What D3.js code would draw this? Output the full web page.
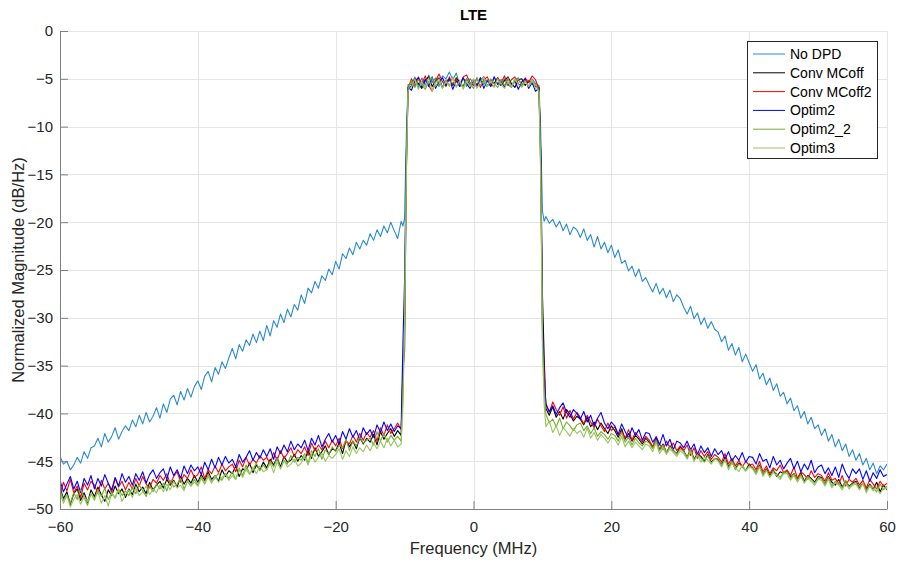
<!DOCTYPE html>
<html>
<head>
<meta charset="utf-8">
<script src="https://cdn.jsdelivr.net/npm/d3@7"></script>
<style>
  html, body { margin: 0; padding: 0; background: #fff; }
  svg { display: block; font-family: "Liberation Sans", Arial, Helvetica, sans-serif; }
</style>
</head>
<body>
<svg id="chart" width="897" height="561"></svg>
<script>
// ---------------- DATA ----------------
const chartTitle = "LTE";
const xLabel = "Frequency (MHz)";
const yLabel = "Normalized Magnitude (dB/Hz)";
const xTicks = [-60, -40, -20, 0, 20, 40, 60];
const yTicks = [0, -5, -10, -15, -20, -25, -30, -35, -40, -45, -50];
const seriesNames = ["No DPD", "Conv MCoff", "Conv MCoff2", "Optim2", "Optim2_2", "Optim3"];
const seriesColors = ["#2a8ad0", "#000000", "#ff0000", "#0000ff", "#77ac30", "#96c65a"];

// frequency grid (MHz)
const freqs = [
  -60,-59.5,-59,-58.5,-58,-57.5,-57,-56.5,-56,-55.5,
  -55,-54.5,-54,-53.5,-53,-52.5,-52,-51.5,-51,-50.5,
  -50,-49.5,-49,-48.5,-48,-47.5,-47,-46.5,-46,-45.5,
  -45,-44.5,-44,-43.5,-43,-42.5,-42,-41.5,-41,-40.5,
  -40,-39.5,-39,-38.5,-38,-37.5,-37,-36.5,-36,-35.5,
  -35,-34.5,-34,-33.5,-33,-32.5,-32,-31.5,-31,-30.5,
  -30,-29.5,-29,-28.5,-28,-27.5,-27,-26.5,-26,-25.5,
  -25,-24.5,-24,-23.5,-23,-22.5,-22,-21.5,-21,-20.5,
  -20,-19.5,-19,-18.5,-18,-17.5,-17,-16.5,-16,-15.5,
  -15,-14.5,-14,-13.5,-13,-12.5,-12,-11.5,-11,-10.5,
  -10.25,-10,-9.75,-9.5,
  -9,-8.5,-8,-7.5,-7,-6.5,-6,-5.5,-5,-4.5,-4,-3.5,-3,-2.5,-2,-1.5,-1,-0.5,
  0,0.5,1,1.5,2,2.5,3,3.5,4,4.5,5,5.5,6,6.5,7,7.5,8,8.5,9,
  9.5,9.75,10,10.25,
  10.5,11,11.5,12,12.5,13,13.5,14,14.5,15,
  15.5,16,16.5,17,17.5,18,18.5,19,19.5,20,
  20.5,21,21.5,22,22.5,23,23.5,24,24.5,25,
  25.5,26,26.5,27,27.5,28,28.5,29,29.5,30,
  30.5,31,31.5,32,32.5,33,33.5,34,34.5,35,
  35.5,36,36.5,37,37.5,38,38.5,39,39.5,40,
  40.5,41,41.5,42,42.5,43,43.5,44,44.5,45,
  45.5,46,46.5,47,47.5,48,48.5,49,49.5,50,
  50.5,51,51.5,52,52.5,53,53.5,54,54.5,55,
  55.5,56,56.5,57,57.5,58,58.5,59,59.5,60
];

const noDPD = [
  -44.5,-45.3,-45.0,-45.9,-45.4,-44.6,-45.2,-44.0,-44.7,-43.6,
  -43.4,-42.6,-43.5,-42.1,-43.0,-42.4,-41.5,-42.7,-41.9,-41.3,
  -41.8,-40.7,-41.4,-40.2,-41.1,-39.9,-40.9,-40.3,-39.4,-40.5,
  -39.0,-39.9,-38.5,-38.1,-39.1,-37.7,-38.6,-37.4,-38.3,-37.2,
  -36.6,-37.5,-36.1,-35.6,-36.7,-35.2,-35.9,-34.6,-35.3,-34.2,
  -33.2,-34.3,-32.8,-33.5,-32.3,-32.9,-31.7,-32.6,-31.4,-32.4,
  -30.8,-31.9,-30.3,-31.0,-29.6,-30.5,-29.1,-29.9,-28.6,-29.2,
  -27.6,-28.5,-26.9,-27.4,-26.2,-26.9,-25.6,-26.1,-24.9,-25.5,
  -24.1,-24.9,-23.3,-23.8,-22.7,-23.4,-22.1,-22.8,-21.9,-22.4,
  -21.2,-21.9,-20.8,-21.5,-20.4,-21.1,-20.0,-20.9,-21.7,-19.9,
  -20.4,-19.6,-11.0,-5.6,
  -5.6,-4.8,-5.9,-4.9,-5.7,-4.6,-5.4,-4.9,-5.8,-4.7,-5.0,-4.3,-5.1,-4.4,-5.6,-4.9,-5.8,-5.0,
  -5.4,-5.9,-4.9,-5.6,-5.1,-5.8,-4.8,-5.5,-5.7,-5.0,-5.6,-5.9,-5.1,-4.9,-5.7,-5.2,-5.8,-5.0,-5.5,
  -5.7,-10.5,-18.8,-19.9,
  -19.4,-20.1,-19.7,-20.5,-19.9,-20.9,-20.2,-21.3,-20.5,-20.8,
  -21.6,-20.7,-21.9,-21.3,-22.6,-21.5,-22.8,-22.1,-23.2,-22.4,
  -23.7,-22.9,-24.3,-24.0,-25.1,-24.6,-25.7,-24.9,-26.2,-25.8,
  -26.6,-27.3,-26.4,-27.5,-26.9,-27.9,-27.1,-28.3,-27.6,-28.0,
  -28.9,-29.6,-28.8,-30.1,-29.5,-30.7,-30.0,-31.1,-30.4,-31.2,
  -31.5,-32.5,-31.9,-33.4,-32.7,-33.9,-33.1,-34.6,-33.8,-34.7,
  -35.6,-34.9,-36.4,-35.8,-37.0,-36.3,-37.6,-36.9,-38.2,-37.8,
  -39.0,-38.4,-39.7,-39.2,-40.5,-39.8,-41.1,-40.4,-41.6,-41.2,
  -42.3,-41.6,-42.9,-42.2,-43.5,-42.7,-43.9,-43.2,-44.5,-43.8,
  -44.9,-44.2,-45.4,-44.7,-45.9,-45.2,-46.3,-45.5,-45.9,-45.3
];

const convMCoff = [
  -47.8,-48.9,-48.2,-49.5,-48.4,-47.9,-49.1,-48.3,-49.3,-48.0,
  -48.7,-47.7,-48.5,-49.2,-48.0,-48.6,-47.6,-48.4,-47.9,-48.8,
  -47.9,-48.5,-47.4,-48.2,-47.7,-48.4,-47.2,-48.0,-47.5,-47.1,
  -47.8,-46.9,-47.5,-47.0,-47.7,-46.6,-47.4,-46.8,-47.3,-46.5,
  -47.2,-46.4,-47.0,-46.1,-46.9,-46.5,-47.1,-45.9,-46.6,-46.0,
  -46.3,-45.5,-46.6,-45.8,-46.0,-45.2,-46.2,-45.4,-45.9,-45.1,
  -45.7,-44.8,-45.4,-44.6,-45.6,-44.5,-45.1,-44.9,-44.3,-45.0,
  -44.4,-44.9,-43.9,-44.7,-43.6,-44.5,-44.0,-43.4,-44.3,-43.7,
  -43.9,-43.1,-44.2,-42.8,-43.5,-42.9,-43.7,-42.5,-43.2,-42.6,
  -43.0,-42.2,-43.3,-41.9,-42.7,-42.1,-41.6,-42.4,-41.8,-42.3,
  -35.5,-33.5,-15.0,-6.2,
  -5.7,-5.0,-5.5,-6.0,-5.1,-4.8,-5.8,-5.2,-4.9,-5.9,-5.3,-5.0,-5.7,-4.9,-5.4,-5.8,-5.0,-5.6,
  -5.1,-5.7,-5.2,-4.8,-5.8,-5.1,-5.5,-4.9,-5.7,-5.2,-4.8,-5.5,-5.9,-5.1,-5.0,-5.7,-5.2,-5.5,-5.8,
  -5.9,-12.5,-27.5,-34.0,
  -39.5,-40.2,-39.3,-40.4,-39.8,-40.6,-39.6,-40.1,-40.8,-40.3,
  -40.6,-41.2,-40.4,-41.4,-40.9,-41.7,-41.0,-41.6,-42.1,-41.3,
  -41.8,-42.5,-41.6,-42.7,-42.1,-42.9,-42.3,-42.7,-43.2,-42.6,
  -43.0,-43.6,-42.7,-43.8,-43.2,-44.1,-43.4,-43.9,-44.2,-43.5,
  -43.9,-44.6,-43.7,-44.8,-44.2,-44.5,-45.0,-44.3,-45.1,-44.7,
  -44.8,-45.4,-44.6,-45.6,-45.0,-45.8,-45.2,-45.5,-46.0,-45.3,
  -45.7,-46.2,-45.4,-46.4,-45.8,-46.5,-45.9,-46.6,-46.1,-46.3,
  -46.0,-46.7,-46.3,-46.9,-46.2,-47.1,-46.5,-46.8,-47.2,-46.6,
  -46.7,-47.4,-46.6,-47.2,-47.5,-46.9,-47.7,-47.1,-47.6,-47.3,
  -47.1,-47.8,-47.3,-48.0,-47.4,-47.9,-47.2,-48.2,-47.5,-48.0
];

const convMCoff2 = [
  -48.5,-47.2,-48.1,-46.9,-48.3,-47.6,-48.8,-47.3,-48.0,-47.1,
  -47.5,-48.4,-47.0,-47.9,-47.3,-48.3,-46.8,-47.7,-47.1,-48.0,
  -47.2,-47.9,-46.8,-47.6,-46.6,-47.4,-47.8,-46.9,-47.3,-46.5,
  -47.0,-46.3,-47.4,-46.6,-46.1,-47.2,-46.4,-46.8,-45.9,-46.7,
  -46.4,-45.6,-46.8,-45.9,-46.3,-45.5,-46.2,-45.3,-46.0,-45.6,
  -45.3,-46.1,-44.9,-45.6,-44.6,-45.4,-44.8,-45.2,-44.4,-44.9,
  -44.6,-45.3,-44.1,-44.9,-43.9,-44.7,-44.2,-43.6,-44.5,-43.8,
  -44.2,-43.5,-44.4,-43.1,-43.9,-43.3,-43.8,-42.9,-43.6,-42.8,
  -43.4,-42.6,-43.7,-42.9,-43.2,-42.3,-43.0,-42.1,-42.8,-42.0,
  -42.5,-41.8,-42.9,-41.5,-42.3,-41.2,-42.1,-41.6,-41.0,-41.7,
  -37.5,-29.5,-14.0,-6.0,
  -5.0,-5.8,-4.8,-5.5,-4.7,-5.7,-6.3,-5.2,-4.5,-5.3,-5.8,-4.8,-5.6,-5.0,-5.8,-4.8,-4.6,-5.4,
  -5.7,-4.9,-5.9,-5.1,-4.8,-5.6,-5.8,-4.9,-5.4,-4.7,-5.7,-5.1,-4.8,-5.5,-5.8,-4.9,-5.4,-4.7,-5.1,
  -6.1,-14.0,-31.0,-35.5,
  -39.1,-39.9,-38.8,-39.6,-40.2,-39.3,-40.5,-39.7,-40.6,-39.9,
  -40.4,-41.1,-40.2,-40.9,-41.5,-40.6,-41.3,-41.9,-41.0,-41.8,
  -41.4,-42.3,-41.9,-42.6,-41.7,-42.8,-42.0,-42.5,-43.0,-42.4,
  -42.8,-43.5,-42.4,-43.2,-43.8,-42.9,-43.6,-43.1,-43.9,-43.4,
  -43.9,-43.3,-44.4,-43.6,-44.7,-43.9,-44.5,-44.0,-44.8,-44.3,
  -44.6,-45.1,-44.2,-45.3,-44.7,-45.5,-44.9,-45.6,-45.0,-45.4,
  -45.3,-45.9,-45.0,-46.1,-45.5,-46.3,-45.7,-46.0,-45.4,-46.2,
  -45.9,-46.5,-45.6,-46.8,-46.1,-46.4,-46.9,-46.0,-46.7,-46.3,
  -46.5,-47.1,-46.2,-47.0,-46.8,-47.4,-46.5,-47.6,-46.9,-47.2,
  -46.8,-47.5,-47.0,-47.8,-46.9,-47.4,-47.9,-47.1,-47.6,-47.3
];

const optim2 = [
  -47.0,-48.2,-47.4,-46.6,-47.9,-47.1,-48.3,-46.8,-47.5,-46.5,
  -47.9,-46.8,-47.6,-46.4,-47.3,-48.0,-46.7,-47.6,-46.3,-47.2,
  -46.6,-47.5,-46.3,-47.0,-46.1,-47.3,-46.4,-45.9,-46.8,-46.2,
  -45.8,-46.9,-45.6,-46.5,-45.9,-46.8,-45.5,-46.3,-45.4,-46.0,
  -45.6,-46.4,-45.1,-45.9,-44.8,-45.7,-44.6,-45.4,-44.5,-45.2,
  -44.8,-45.6,-44.3,-45.1,-44.6,-43.9,-44.9,-44.1,-44.7,-43.8,
  -44.5,-43.7,-44.8,-43.5,-44.2,-43.3,-44.0,-42.9,-43.8,-43.2,
  -43.6,-42.8,-43.9,-42.6,-43.3,-42.3,-43.5,-42.7,-42.1,-43.0,
  -42.3,-43.2,-41.9,-42.7,-41.6,-42.5,-41.8,-42.8,-41.5,-42.2,
  -41.7,-42.5,-41.2,-42.0,-40.9,-41.8,-41.1,-41.9,-41.3,-41.6,
  -33.0,-26.0,-13.0,-5.9,
  -6.2,-5.2,-4.9,-5.9,-5.1,-5.8,-4.8,-6.0,-5.3,-4.9,-5.7,-5.0,-6.1,-5.2,-5.8,-4.9,-5.5,-6.0,
  -5.1,-5.7,-4.9,-6.0,-5.2,-5.8,-4.8,-5.6,-5.1,-5.9,-4.9,-5.7,-5.2,-6.1,-5.3,-5.0,-6.0,-5.4,-6.3,
  -6.0,-13.0,-30.0,-36.5,
  -39.0,-39.8,-39.2,-40.1,-39.4,-38.9,-39.9,-40.4,-39.6,-40.0,
  -40.6,-39.8,-40.9,-40.2,-41.3,-40.5,-39.9,-41.0,-41.6,-40.9,
  -41.3,-42.2,-41.1,-41.9,-42.6,-41.5,-42.3,-41.7,-42.8,-42.0,
  -42.1,-43.0,-42.5,-43.3,-42.2,-43.4,-42.7,-43.8,-42.9,-43.1,
  -43.6,-42.9,-43.8,-43.2,-44.3,-43.4,-44.1,-43.6,-44.5,-43.7,
  -44.3,-43.9,-44.8,-44.0,-45.0,-44.4,-44.9,-44.1,-45.1,-44.5,
  -44.6,-45.3,-44.2,-45.0,-44.8,-45.7,-44.5,-45.4,-44.9,-45.8,
  -45.2,-44.7,-45.8,-45.0,-46.1,-45.3,-45.9,-44.9,-46.2,-45.6,
  -45.4,-46.3,-45.7,-46.5,-45.6,-46.7,-45.3,-46.2,-46.8,-45.8,
  -46.3,-45.8,-46.9,-46.0,-47.1,-46.2,-46.8,-45.9,-46.6,-46.4
];

const optim2_2 = [
  -48.0,-49.1,-48.5,-49.4,-48.3,-49.0,-47.9,-48.8,-49.6,-48.4,
  -48.9,-48.0,-48.7,-47.8,-49.0,-48.3,-48.8,-47.9,-48.6,-48.1,
  -48.6,-47.7,-48.4,-47.5,-48.1,-48.7,-47.6,-48.2,-47.4,-47.9,
  -47.3,-48.1,-47.0,-47.7,-47.4,-46.8,-47.9,-47.1,-47.6,-46.9,
  -47.5,-46.6,-47.3,-46.4,-47.1,-46.8,-46.2,-47.0,-46.3,-46.8,
  -46.1,-46.9,-45.7,-46.5,-45.4,-46.3,-45.9,-45.2,-46.0,-45.4,
  -45.9,-45.0,-45.6,-44.7,-45.8,-44.9,-45.3,-44.4,-45.1,-44.6,
  -44.9,-44.2,-45.2,-43.9,-44.5,-43.7,-44.8,-43.8,-44.3,-43.5,
  -44.0,-43.3,-43.6,-42.7,-43.9,-42.9,-43.4,-42.5,-43.1,-42.8,
  -42.6,-43.3,-41.9,-42.9,-42.1,-43.0,-42.3,-42.8,-42.4,-42.9,
  -38.5,-30.5,-14.5,-6.1,
  -5.2,-5.9,-5.1,-5.6,-6.1,-5.3,-4.9,-5.8,-5.2,-6.0,-5.1,-5.7,-4.8,-5.8,-5.2,-5.9,-5.0,-5.5,
  -6.0,-4.9,-5.7,-5.2,-5.8,-5.0,-5.5,-5.9,-5.1,-5.7,-4.9,-5.8,-5.3,-5.0,-5.7,-5.2,-5.8,-5.3,-5.6,
  -6.2,-14.5,-32.0,-37.5,
  -40.1,-41.0,-40.6,-41.4,-40.5,-41.6,-40.9,-41.3,-41.8,-41.2,
  -41.0,-41.8,-41.3,-42.1,-41.5,-42.4,-41.9,-42.2,-42.7,-42.1,
  -42.3,-42.9,-42.0,-43.0,-42.5,-43.3,-42.6,-43.1,-43.4,-42.9,
  -43.1,-43.7,-42.8,-43.9,-43.3,-44.1,-43.5,-43.8,-44.3,-43.7,
  -44.0,-44.6,-43.8,-44.9,-44.3,-44.7,-45.1,-44.4,-45.2,-44.8,
  -44.7,-45.4,-44.9,-45.7,-45.0,-45.9,-45.3,-45.6,-46.0,-45.5,
  -45.6,-46.2,-45.5,-46.4,-45.9,-46.6,-46.0,-46.3,-46.7,-46.2,
  -46.1,-46.8,-46.3,-47.0,-46.4,-47.2,-46.6,-46.9,-47.3,-46.8,
  -46.8,-47.4,-46.7,-47.6,-47.1,-47.3,-47.8,-47.0,-47.7,-47.4,
  -47.2,-47.9,-47.3,-48.1,-47.5,-47.8,-48.2,-47.4,-48.0,-47.6
];

const optim3 = [
  -48.3,-49.4,-48.6,-49.8,-49.0,-48.5,-49.5,-48.7,-49.2,-48.4,
  -49.1,-48.2,-49.4,-48.6,-49.7,-48.3,-48.9,-48.0,-49.2,-48.5,
  -48.0,-48.8,-47.8,-48.6,-48.2,-47.6,-48.5,-47.9,-48.3,-47.5,
  -48.2,-47.4,-48.0,-47.1,-47.8,-47.5,-48.1,-47.0,-47.6,-47.2,
  -47.6,-46.8,-47.4,-46.6,-47.3,-46.5,-47.2,-46.7,-46.4,-47.0,
  -46.5,-46.9,-45.9,-46.7,-45.8,-46.4,-45.6,-46.3,-45.5,-46.1,
  -45.9,-45.2,-46.2,-45.1,-45.8,-44.9,-45.6,-45.3,-44.8,-45.5,
  -45.2,-44.5,-45.4,-44.3,-45.1,-44.6,-44.2,-45.0,-44.4,-44.7,
  -44.3,-43.7,-44.8,-43.9,-44.5,-43.5,-44.2,-43.6,-44.0,-43.3,
  -43.9,-43.1,-43.7,-42.9,-43.6,-42.6,-43.4,-42.8,-43.5,-43.2,
  -39.5,-31.0,-15.5,-6.3,
  -5.8,-5.0,-6.1,-5.3,-5.9,-4.9,-6.3,-5.4,-5.0,-6.0,-5.3,-5.8,-4.9,-5.9,-5.2,-6.1,-5.3,-5.8,
  -5.0,-6.0,-5.3,-4.8,-5.8,-5.2,-5.9,-5.0,-5.6,-6.0,-5.3,-5.8,-5.0,-5.6,-5.9,-5.3,-5.8,-5.1,-6.0,
  -6.3,-15.0,-33.0,-39.0,
  -41.4,-40.8,-42.0,-41.3,-42.3,-41.5,-41.9,-42.4,-41.6,-42.1,
  -41.8,-42.5,-41.5,-42.6,-42.0,-42.8,-42.2,-42.6,-43.1,-42.5,
  -42.7,-43.3,-42.4,-43.5,-42.9,-43.6,-43.0,-43.4,-43.8,-43.2,
  -43.4,-44.0,-43.1,-44.2,-43.6,-44.3,-43.7,-44.1,-44.5,-43.9,
  -44.2,-44.8,-44.0,-45.0,-44.4,-45.1,-44.6,-44.9,-45.3,-44.7,
  -45.0,-45.6,-44.8,-45.9,-45.2,-45.7,-46.1,-45.4,-46.0,-45.6,
  -45.8,-46.4,-45.6,-46.6,-46.0,-46.7,-46.2,-46.5,-46.9,-46.3,
  -46.3,-47.0,-46.5,-47.2,-46.6,-47.3,-46.8,-47.1,-47.5,-46.9,
  -47.0,-47.6,-46.9,-47.8,-47.2,-47.5,-48.0,-47.3,-47.9,-47.5,
  -47.4,-48.0,-47.3,-48.3,-47.6,-48.1,-47.7,-48.4,-47.8,-47.9
];

const seriesValues = [noDPD, convMCoff, convMCoff2, optim2, optim2_2, optim3];

// ---------------- DRAW ----------------
const svg = d3.select("#chart");
const W = 897, H = 561;
const m = { left: 60, right: 10, top: 31, bottom: 52 };
const pw = W - m.left - m.right;   // 827
const ph = H - m.top - m.bottom;   // 478

const x = d3.scaleLinear().domain([-60, 60]).range([m.left, m.left + pw]);
const y = d3.scaleLinear().domain([-50, 0]).range([m.top + ph, m.top]);

const axisColor = "#262626";
const gridColor = "#e5e5e5";

// grid
const grid = svg.append("g");
grid.selectAll(".gx").data(xTicks).enter().append("line")
  .attr("x1", d => Math.round(x(d)) + 0.5).attr("x2", d => Math.round(x(d)) + 0.5)
  .attr("y1", m.top).attr("y2", m.top + ph)
  .attr("stroke", gridColor).attr("stroke-width", 1);
grid.selectAll(".gy").data(yTicks).enter().append("line")
  .attr("x1", m.left).attr("x2", m.left + pw)
  .attr("y1", d => Math.round(y(d)) + 0.5).attr("y2", d => Math.round(y(d)) + 0.5)
  .attr("stroke", gridColor).attr("stroke-width", 1);

// clip
svg.append("clipPath").attr("id", "clip").append("rect")
  .attr("x", m.left).attr("y", m.top).attr("width", pw).attr("height", ph);

const line = d3.line().x(d => x(d[0])).y(d => y(d[1]));
const plot = svg.append("g").attr("clip-path", "url(#clip)");
seriesValues.forEach((vals, i) => {
  const pts = freqs.map((f, k) => [f, vals[k]]);
  plot.append("path").datum(pts)
    .attr("d", line)
    .attr("fill", "none")
    .attr("stroke", seriesColors[i])
    .attr("stroke-width", 1.1)
    .attr("stroke-linejoin", "round");
});

// axes
const xAxis = d3.axisBottom(x).tickValues(xTicks).tickSizeInner(-8).tickSizeOuter(0).tickPadding(12);
const gx = svg.append("g").attr("transform", `translate(0,${m.top + ph})`).call(xAxis);
gx.select(".domain").attr("stroke", "#808080");
gx.selectAll(".tick line").attr("stroke", "#808080");
gx.selectAll(".tick text").attr("fill", axisColor).style("font-size", "15px")
  .style("font-family", "'Liberation Sans', Arial, sans-serif");

const yAxis = d3.axisLeft(y).tickValues(yTicks).tickSizeInner(-8).tickSizeOuter(0).tickPadding(7);
const gy = svg.append("g").attr("transform", `translate(${m.left},0)`).call(yAxis);
gy.select(".domain").attr("stroke", "#808080");
gy.selectAll(".tick line").attr("stroke", "#808080");
gy.selectAll(".tick text").attr("fill", axisColor).style("font-size", "15px")
  .style("font-family", "'Liberation Sans', Arial, sans-serif");

// labels
svg.append("text").attr("x", m.left + pw / 2).attr("y", 20)
  .attr("text-anchor", "middle").attr("fill", "#000")
  .style("font-size", "15px").style("font-weight", "bold").text(chartTitle);
svg.append("text").attr("x", m.left + pw / 2).attr("y", 554)
  .attr("text-anchor", "middle").attr("fill", axisColor)
  .style("font-size", "16.5px").text(xLabel);
svg.append("text").attr("transform", `translate(24,${m.top + ph / 2}) rotate(-90)`)
  .attr("text-anchor", "middle").attr("fill", axisColor)
  .style("font-size", "16.5px").text(yLabel);

// legend
const lg = svg.append("g");
lg.append("rect").attr("x", 747.5).attr("y", 41.5).attr("width", 130).attr("height", 117)
  .attr("fill", "#fff").attr("stroke", "#262626").attr("stroke-width", 1);
seriesNames.forEach((name, i) => {
  const cy = 54 + i * 18.8;
  lg.append("line").attr("x1", 753).attr("x2", 785).attr("y1", cy).attr("y2", cy)
    .attr("stroke", seriesColors[i]).attr("stroke-width", 1);
  lg.append("text").attr("x", 790).attr("y", cy).attr("dy", "0.35em")
    .attr("fill", "#000").style("font-size", "14px").text(name);
});
</script>
</body>
</html>
